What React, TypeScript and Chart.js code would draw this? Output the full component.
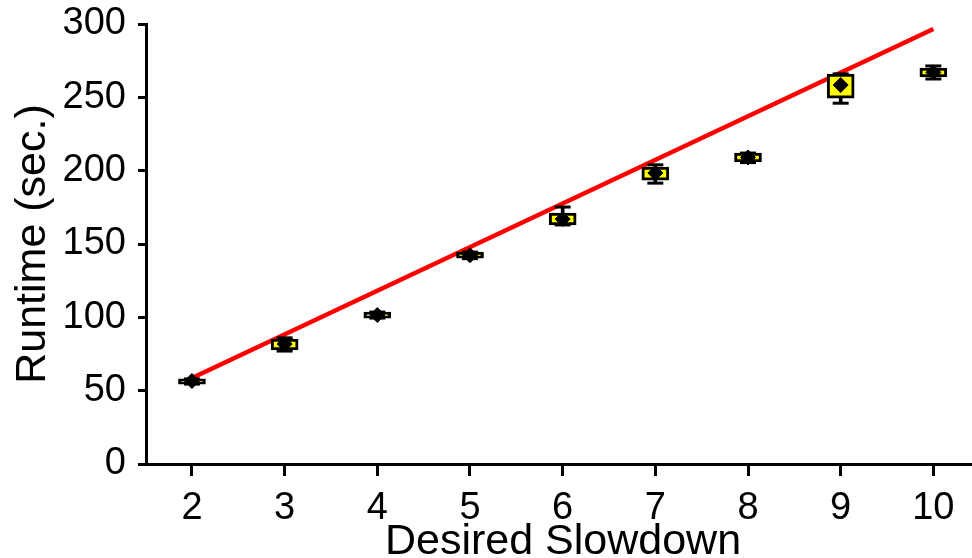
import React, { useEffect, useRef } from "react";
import { Chart, registerables } from "chart.js";

Chart.register(...registerables);

// Desired slowdown settings (x categories)
const slowdown = [2, 3, 4, 5, 6, 7, 8, 9, 10];
// Box-plot statistics of measured runtime (seconds)
const whiskerLow = [54.5, 77, 99.5, 140, 163, 191.5, 205.5, 246, 262.5];
const boxLow = [54.5, 77.7, 99.5, 140.3, 163, 193.6, 205.9, 249.5, 263.9];
const boxHigh = [58, 85.2, 103.6, 144.5, 171.1, 202.5, 212, 265.9, 270];
const whiskerHigh = [58, 86, 103.6, 144.5, 175.2, 204, 212, 266, 271.4];
const meanRuntime = [56.6, 81.8, 101.6, 142.3, 167, 198.4, 209, 258.4, 267];
// Ideal runtime line endpoints
const idealSlowdown = [2, 10];
const idealRuntime = [58.6, 296.6];
// Axis ticks
const xTicks = [2, 3, 4, 5, 6, 7, 8, 9, 10];
const yTicks = [0, 50, 100, 150, 200, 250, 300];

const FONT = "'Liberation Sans', Arial, Helvetica, sans-serif";

const axisTitles = {
  id: "axisTitles",
  afterDraw(chart: any) {
    const ctx = chart.ctx;
    const area = chart.chartArea;
    ctx.save();
    ctx.fillStyle = "#000";
    ctx.font = `43px ${FONT}`;
    ctx.textAlign = "center";
    ctx.textBaseline = "alphabetic";
    ctx.fillText("Desired Slowdown", 563, 554);
    ctx.translate(45, (area.top + area.bottom) / 2);
    ctx.rotate(-Math.PI / 2);
    ctx.fillText("Runtime (sec.)", 0, 0);
    ctx.restore();
  },
};

export default function App() {
  const ref = useRef<HTMLCanvasElement | null>(null);

  useEffect(() => {
    if (!ref.current) return;
    const pts = (ys: number[]) => slowdown.map((x, i) => ({ x, y: ys[i] }));
    const chart = new Chart(ref.current, {
      type: "bar",
      data: {
        datasets: [
          {
            type: "line",
            data: idealSlowdown.map((x, i) => ({ x, y: idealRuntime[i] })),
            borderColor: "#ff0000",
            borderWidth: 4.5,
            pointRadius: 0,
            order: 6,
          } as any,
          {
            type: "bar",
            data: slowdown.map((x, i) => ({ x, y: [whiskerLow[i], whiskerHigh[i]] })),
            backgroundColor: "#000",
            barThickness: 3,
            grouped: false,
            order: 5,
          } as any,
          {
            type: "bar",
            data: slowdown.map((x, i) => ({ x, y: [boxLow[i], boxHigh[i]] })),
            backgroundColor: "#ffff00",
            borderColor: "#000",
            borderWidth: 3,
            borderSkipped: false,
            barThickness: 27,
            grouped: false,
            order: 4,
          } as any,
          {
            type: "scatter",
            data: pts(whiskerLow),
            pointStyle: "line",
            pointRadius: 8,
            borderColor: "#000",
            borderWidth: 3,
            order: 3,
          } as any,
          {
            type: "scatter",
            data: pts(whiskerHigh),
            pointStyle: "line",
            pointRadius: 8,
            borderColor: "#000",
            borderWidth: 3,
            order: 2,
          } as any,
          {
            type: "scatter",
            data: pts(meanRuntime),
            pointStyle: "rectRot",
            pointRadius: 7.5,
            backgroundColor: "#000",
            borderColor: "#000",
            borderWidth: 1,
            order: 1,
          } as any,
        ],
      },
      options: {
        responsive: false,
        animation: false,
        layout: { autoPadding: false, padding: { top: 24, right: 0, left: 0, bottom: 0 } },
        plugins: { legend: { display: false }, tooltip: { enabled: false } },
        scales: {
          x: {
            type: "linear",
            min: 1.504,
            max: 10.417,
            offset: false,
            afterFit: (s: any) => {
              s.height = 94;
              s.paddingLeft = 0;
              s.paddingRight = 0;
            },
            afterBuildTicks: (s: any) => {
              s.ticks = xTicks.map((v) => ({ value: v }));
            },
            border: { color: "#000", width: 3 },
            grid: {
              drawOnChartArea: false,
              offset: false,
              color: "#000",
              tickColor: "#000",
              tickWidth: 3,
              tickLength: 12,
            },
            ticks: {
              color: "#000",
              padding: 10,
              font: { family: FONT, size: 38 },
              callback: (v: any) => String(v),
            },
          },
          y: {
            type: "linear",
            min: 0,
            max: 300,
            afterFit: (s: any) => {
              s.width = 146;
              s.paddingTop = 0;
              s.paddingBottom = 0;
            },
            afterBuildTicks: (s: any) => {
              s.ticks = yTicks.map((v) => ({ value: v }));
            },
            border: { color: "#000", width: 3 },
            grid: {
              drawOnChartArea: false,
              color: "#000",
              tickColor: "#000",
              tickWidth: 3,
              tickLength: 8,
            },
            ticks: {
              color: "#000",
              padding: 12,
              font: { family: FONT, size: 38 },
              callback: (v: any) => String(v),
            },
          },
        },
      },
      plugins: [axisTitles],
    });
    return () => chart.destroy();
  }, []);

  return (
    <div style={{ position: "absolute", left: 0, top: 0, width: 972, height: 558, background: "#fff" }}>
      <canvas ref={ref} width={972} height={558} />
    </div>
  );
}
